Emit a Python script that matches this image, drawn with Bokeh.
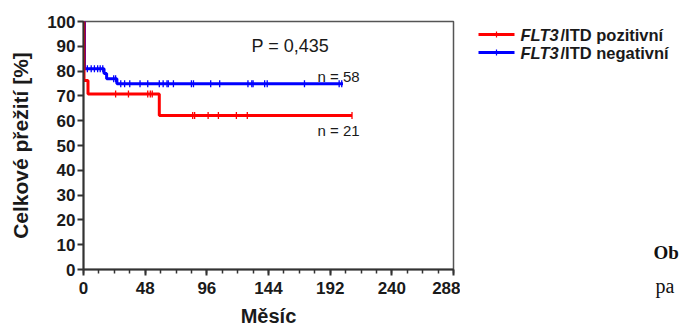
import numpy as np
from bokeh.plotting import figure
from bokeh.models import Range1d, FixedTicker, Label
from bokeh.layouts import row
from bokeh.embed import file_html
from bokeh.resources import INLINE

# Kaplan-Meier overall survival (months, %)
pos_time = [0, 0.4, 3.5, 59, 209]
pos_surv = [100, 76.2, 70.8, 62.1, 62.1]
pos_cens = [25, 35, 50, 52, 53.5, 85, 86.5, 97, 105, 119, 127.5, 209]

neg_time = [0, 0.8, 16, 18, 26, 202]
neg_surv = [100, 80.9, 79.0, 76.9, 74.9, 74.9]
neg_cens = [3, 6, 8.5, 11, 13, 15, 23.5, 25, 29, 32, 36, 44, 50, 59, 62, 65, 66,
            70, 84, 85.6, 99, 106, 128, 131, 132, 141, 143, 172, 199, 201]

x_ticks = [0, 48, 96, 144, 192, 240, 288]
x_minor = list(range(0, 289, 12))
y_ticks = [0, 10, 20, 30, 40, 50, 60, 70, 80, 90, 100]

p_text = "P = 0,435"
n_pos = "n = 21"
n_neg = "n = 58"
legend_labels = ["/ITD pozitivní", "/ITD negativní"]
gene = "FLT3"

RED = "#ff0000"
BLUE = "#0000ff"
INK = "#1a1a1a"
FONT = "Liberation Sans"


def surv_at(times, surv, t):
    """Survival value of a step curve at time t."""
    idx = np.searchsorted(times, t, side="right") - 1
    return surv[max(idx, 0)]


p = figure(width=460, height=334, output_backend="svg", toolbar_location=None,
           x_range=Range1d(0, 288), y_range=Range1d(0, 100),
           min_border_left=83, min_border_right=7, min_border_top=21,
           min_border_bottom=65)
p.grid.visible = False
p.outline_line_color = "#555555"
p.outline_line_width = 1.5
p.background_fill_color = "white"
p.border_fill_color = "white"

for ax in (p.xaxis[0], p.yaxis[0]):
    ax.axis_line_width = 2
    ax.axis_line_color = "#333333"
    ax.major_tick_line_width = 2
    ax.major_tick_line_color = "#333333"
    ax.major_tick_in = 0
    ax.major_tick_out = 6
    ax.major_label_text_font = FONT
    ax.major_label_text_font_style = "bold"
    ax.major_label_text_font_size = "17px"
    ax.major_label_text_color = INK
    ax.axis_label_text_font = FONT
    ax.axis_label_text_font_style = "bold"
    ax.axis_label_text_color = INK

p.xaxis.ticker = FixedTicker(ticks=x_ticks, minor_ticks=x_minor)
p.xaxis.minor_tick_in = 0
p.xaxis.minor_tick_out = 4
p.xaxis.minor_tick_line_width = 1.5
p.xaxis.minor_tick_line_color = "#333333"
p.xaxis.major_label_standoff = 6
p.xaxis.axis_label = "Měsíc"
p.xaxis.axis_label_text_font_size = "20px"
p.xaxis.axis_label_standoff = 8

p.yaxis.ticker = FixedTicker(ticks=y_ticks)
p.yaxis.minor_tick_line_color = None
p.yaxis.major_label_standoff = 2
p.yaxis.axis_label = "Celkové přežití [%]"
p.yaxis.axis_label_text_font_size = "21px"
p.yaxis.axis_label_standoff = 12

# survival curves
p.step(neg_time, neg_surv, mode="after", line_color=BLUE, line_width=3)
p.step(pos_time, pos_surv, mode="after", line_color=RED, line_width=3)

# censoring marks
p.scatter(neg_cens, [surv_at(neg_time, neg_surv, t) for t in neg_cens],
          marker="dash", angle=np.pi / 2, size=7, line_color=BLUE, line_width=1.3)
p.scatter(pos_cens, [surv_at(pos_time, pos_surv, t) for t in pos_cens],
          marker="dash", angle=np.pi / 2, size=7, line_color=RED, line_width=1.3)

p.add_layout(Label(x=161, y=90, text=p_text, text_font=FONT, text_font_size="18px",
                   text_align="center", text_baseline="middle", text_color=INK))
p.add_layout(Label(x=198.6, y=77.8, text=n_neg, text_font=FONT, text_font_size="15px",
                   text_align="center", text_baseline="middle", text_color=INK))
p.add_layout(Label(x=198.6, y=56, text=n_pos, text_font=FONT, text_font_size="15px",
                   text_align="center", text_baseline="middle", text_color=INK))

# legend panel; coordinates are canvas pixels with y pointing down
lg = figure(width=220, height=334, output_backend="svg", toolbar_location=None,
            x_range=Range1d(460, 680), y_range=Range1d(334, 0),
            min_border=0, x_axis_type=None, y_axis_type=None)
if "frame_align" in lg.properties():
    lg.frame_align = False
lg.grid.visible = False
lg.outline_line_color = None

for i, (col, lab) in enumerate(zip([RED, BLUE], legend_labels)):
    yy = 34 + 18 * i
    lg.segment(478, yy, 514, yy, line_color=col, line_width=3)
    lg.segment(496, yy - 3, 496, yy + 3, line_color=col, line_width=1.2)
    lg.add_layout(Label(x=520, y=yy, text=gene, text_font=FONT, text_font_style="bold italic",
                        text_font_size="16.5px", text_baseline="middle", text_color=INK))
    lg.add_layout(Label(x=560, y=yy, text=lab, text_font=FONT, text_font_style="bold",
                        text_font_size="16.5px", text_baseline="middle", text_color=INK))

lg.add_layout(Label(x=653, y=252, text="Ob", text_font="Liberation Serif", text_font_style="bold",
                    text_font_size="19px", text_baseline="middle", text_color="#111111"))
lg.add_layout(Label(x=655, y=285, text="pa", text_font="Liberation Serif",
                    text_font_size="20px", text_baseline="middle", text_color="#111111"))

layout = row(p, lg, spacing=0)
open("out.html", "w").write(file_html(layout, INLINE))
